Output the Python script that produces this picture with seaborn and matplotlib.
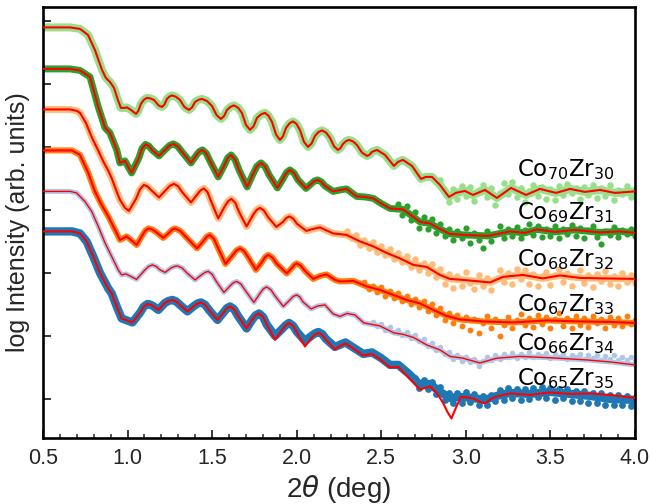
import matplotlib
matplotlib.use("Agg")
import matplotlib.pyplot as plt
import seaborn as sns
from matplotlib.ticker import MultipleLocator

sns.set_theme(style="ticks")
plt.rcParams['font.family'] = ['Liberation Sans', 'DejaVu Sans']
plt.rcParams['mathtext.fontset'] = 'dejavusans'

# ---------------- data (2theta in deg, log intensity in arb. decades) -------------
labels = [r'$\mathrm{Co_{70}Zr_{30}}$', r'$\mathrm{Co_{69}Zr_{31}}$', r'$\mathrm{Co_{68}Zr_{32}}$',
          r'$\mathrm{Co_{67}Zr_{33}}$', r'$\mathrm{Co_{66}Zr_{34}}$', r'$\mathrm{Co_{65}Zr_{35}}$']

x70 = [0.50, 0.66, 0.719, 0.766, 0.807, 0.849, 0.872, 0.896, 0.920, 0.943, 0.961, 0.979, 0.997, 1.020,
       1.050, 1.064, 1.079, 1.097, 1.115, 1.135, 1.156, 1.185, 1.204, 1.218, 1.233, 1.248, 1.263, 1.286, 1.310,
       1.336, 1.363, 1.381, 1.399, 1.420, 1.440, 1.470, 1.499, 1.526, 1.552, 1.570, 1.588, 1.609, 1.629, 1.653,
       1.676, 1.700, 1.724, 1.745, 1.765, 1.789, 1.812, 1.833, 1.854, 1.878, 1.901, 1.919, 1.937, 1.958, 1.978,
       1.999, 2.019, 2.043, 2.067, 2.088, 2.108, 2.129, 2.150, 2.174, 2.197, 2.221, 2.244, 2.259, 2.274, 2.292,
       2.309, 2.333, 2.356, 2.386, 2.416, 2.431, 2.445,
       2.475, 2.522, 2.575, 2.599, 2.628, 2.682, 2.735, 2.764, 2.800, 2.847, 2.900, 2.941, 2.994, 3.042, 3.113,
       3.184, 3.267, 3.356, 3.438, 3.533, 3.616, 3.704, 3.793, 3.882, 4.000]
y70 = [5.897, 5.897, 5.873, 5.778, 5.540, 5.222, 5.095, 5.032, 4.937, 4.746, 4.619, 4.619, 4.627, 4.587,
       4.524, 4.572, 4.683, 4.750, 4.778, 4.770, 4.746, 4.655, 4.635, 4.673, 4.762, 4.800, 4.817, 4.796, 4.746,
       4.635, 4.587, 4.625, 4.714, 4.748, 4.762, 4.729, 4.651, 4.506, 4.444, 4.487, 4.587, 4.637, 4.659, 4.623,
       4.540, 4.351, 4.270, 4.327, 4.460, 4.516, 4.540, 4.497, 4.397, 4.197, 4.111, 4.168, 4.302, 4.374, 4.405,
       4.365, 4.270, 4.081, 4.000, 4.053, 4.175, 4.236, 4.262, 4.226, 4.143, 4.009, 3.952, 3.981, 4.048, 4.092,
       4.111, 4.087, 4.032, 3.910, 3.857, 3.876, 3.921,
       3.952, 3.873, 3.698, 3.762, 3.794, 3.698, 3.492, 3.524, 3.524, 3.397, 3.206, 3.270, 3.302, 3.238, 3.317,
       3.190, 3.349, 3.238, 3.333, 3.270, 3.333, 3.286, 3.317, 3.270, 3.294]

x69 = [0.50, 0.66, 0.719, 0.778, 0.825, 0.867, 0.896, 0.936, 0.955, 0.985,
       1.024, 1.067, 1.086, 1.106, 1.126, 1.145, 1.186, 1.227, 1.249, 1.271, 1.296, 1.322, 1.375, 1.408, 1.425,
       1.443, 1.465, 1.487, 1.536, 1.573, 1.592, 1.612, 1.635, 1.659, 1.707, 1.742, 1.765, 1.789, 1.813, 1.837,
       1.886, 1.922, 1.941, 1.960, 1.984, 2.008, 2.055, 2.085, 2.104, 2.123, 2.145, 2.167,
       2.216, 2.256, 2.295, 2.355, 2.404, 2.453, 2.504, 2.552, 2.628, 2.682, 2.729, 2.788, 2.847, 2.906, 2.994,
       3.131, 3.261, 3.349, 3.420, 3.527, 3.645, 3.793, 3.911, 4.000]
y69 = [5.238, 5.238, 5.214, 5.111, 4.651, 4.302, 4.222, 3.952, 3.746, 3.778,
       3.587, 3.825, 3.976, 4.040, 4.014, 3.952, 3.857, 3.968, 4.024, 4.048, 4.010, 3.921, 3.746, 3.873, 3.928,
       3.952, 3.900, 3.778, 3.524, 3.714, 3.825, 3.873, 3.802, 3.635, 3.365, 3.571, 3.694, 3.746, 3.689, 3.556,
       3.349, 3.508, 3.597, 3.635, 3.587, 3.476, 3.341, 3.413, 3.457, 3.476, 3.448, 3.381,
       3.294, 3.317, 3.333, 3.214, 3.206, 3.183, 3.095, 3.024, 3.008, 2.905, 2.810, 2.786, 2.698, 2.619, 2.603,
       2.587, 2.659, 2.635, 2.690, 2.651, 2.683, 2.643, 2.659, 2.635]

x68 = [0.50, 0.66, 0.701, 0.719, 0.754, 0.790, 0.825, 0.861, 0.884, 0.908, 0.932, 0.955, 0.985, 1.008,
       1.050, 1.074, 1.097, 1.118, 1.139, 1.186, 1.227, 1.251, 1.275, 1.299, 1.322, 1.375, 1.410, 1.431, 1.452,
       1.473, 1.493, 1.536, 1.573, 1.594, 1.614, 1.637, 1.659, 1.704, 1.742, 1.763, 1.783, 1.807, 1.830, 1.880,
       1.919, 1.938, 1.957, 1.980, 2.002,
       2.058, 2.096, 2.138, 2.215, 2.295, 2.374, 2.453, 2.532, 2.611, 2.690, 2.769, 2.847, 2.906, 2.984, 3.143,
       3.220, 3.338, 3.456, 3.557, 3.675, 3.811, 4.000]
y68 = [4.595, 4.595, 4.571, 4.540, 4.381, 4.143, 3.952, 3.746, 3.635, 3.492, 3.317, 3.159, 3.032, 2.984,
       3.175, 3.330, 3.397, 3.373, 3.317, 3.198, 3.317, 3.384, 3.413, 3.375, 3.286, 3.119, 3.238, 3.310, 3.341,
       3.282, 3.143, 2.865, 3.048, 3.137, 3.175, 3.113, 2.968, 2.738, 2.921, 2.999, 3.032, 2.989, 2.889, 2.730,
       2.810, 2.871, 2.897, 2.861, 2.778,
       2.667, 2.698, 2.722, 2.627, 2.603, 2.500, 2.421, 2.317, 2.230, 2.127, 2.095, 1.968, 1.905, 1.889, 1.849,
       1.937, 1.968, 1.913, 1.960, 1.921, 1.913, 1.905]

x67 = [0.50, 0.672, 0.719, 0.768, 0.807, 0.847, 0.886, 0.926, 0.955, 0.995, 1.020, 1.054, 1.085,
       1.105, 1.124, 1.146, 1.168, 1.211, 1.245, 1.263, 1.280, 1.312, 1.345, 1.411, 1.449, 1.468, 1.487, 1.511,
       1.535, 1.579, 1.623, 1.644, 1.665, 1.688, 1.712, 1.759, 1.795, 1.814, 1.832, 1.857, 1.883, 1.941, 1.972,
       1.986, 2.000, 2.024, 2.049,
       2.098, 2.138, 2.177, 2.226, 2.256, 2.335, 2.414, 2.492, 2.571, 2.650, 2.729, 2.808, 2.887, 2.965, 3.101,
       3.279, 3.480, 3.675, 3.852, 4.000]
y67 = [3.944, 3.944, 3.873, 3.587, 3.294, 3.079, 2.897, 2.683, 2.524, 2.579, 2.524, 2.444, 2.587,
       2.670, 2.706, 2.690, 2.651, 2.556, 2.635, 2.685, 2.706, 2.666, 2.571, 2.389, 2.508, 2.575, 2.603, 2.541,
       2.397, 2.143, 2.286, 2.358, 2.389, 2.349, 2.254, 2.048, 2.175, 2.253, 2.286, 2.243, 2.143, 1.992, 2.079,
       2.129, 2.151, 2.115, 2.032,
       1.905, 1.952, 1.976, 1.889, 1.865, 1.873, 1.786, 1.730, 1.651, 1.571, 1.516, 1.413, 1.317, 1.262, 1.230,
       1.214, 1.246, 1.230, 1.222, 1.206]

x66 = [0.50, 0.66, 0.699, 0.748, 0.788, 0.827, 0.867, 0.906, 0.945, 0.965, 0.990, 1.014, 1.053, 1.103,
       1.125, 1.147, 1.170, 1.192, 1.222, 1.257, 1.276, 1.295, 1.323, 1.351, 1.399, 1.437, 1.457, 1.477, 1.500,
       1.523, 1.570, 1.606, 1.626, 1.645, 1.670, 1.694, 1.747, 1.783, 1.803, 1.822, 1.847, 1.872, 1.921, 1.960,
       1.980, 2.000, 2.019, 2.037,
       2.085, 2.126, 2.167, 2.216, 2.256, 2.298, 2.344, 2.397, 2.492, 2.575, 2.630, 2.690, 2.769, 2.847, 2.906,
       2.984, 3.083, 3.182, 3.320, 3.515, 3.714, 3.852, 4.000]
y66 = [3.294, 3.294, 3.270, 3.135, 2.976, 2.738, 2.476, 2.262, 2.048, 1.968, 1.984, 1.952, 1.897, 2.048,
       2.103, 2.127, 2.103, 2.048, 2.008, 2.079, 2.101, 2.111, 2.078, 2.000, 1.889, 1.968, 2.007, 2.024, 1.979,
       1.873, 1.690, 1.794, 1.844, 1.865, 1.825, 1.730, 1.532, 1.675, 1.747, 1.778, 1.735, 1.635, 1.468, 1.571,
       1.627, 1.651, 1.618, 1.540,
       1.429, 1.476, 1.492, 1.349, 1.310, 1.357, 1.333, 1.206, 1.159, 1.048, 1.024, 0.976, 0.857, 0.778, 0.675,
       0.646, 0.571, 0.646, 0.675, 0.651, 0.619, 0.587, 0.540]

x65 = [0.50, 0.672, 0.719, 0.758, 0.797, 0.837, 0.886, 0.906, 0.936, 0.965, 0.997, 1.029, 1.073,
       1.096, 1.118, 1.134, 1.150, 1.182, 1.221, 1.244, 1.266, 1.288, 1.310, 1.354, 1.393, 1.414, 1.434, 1.458,
       1.481, 1.532, 1.570, 1.588, 1.606, 1.630, 1.653, 1.704, 1.736, 1.757, 1.777, 1.801, 1.824, 1.872, 1.914,
       1.935, 1.955, 1.979, 2.002, 2.049, 2.087, 2.108, 2.128, 2.151, 2.173,
       2.226, 2.256, 2.288, 2.338, 2.394, 2.445, 2.498, 2.552, 2.601, 2.664, 2.729, 2.788, 2.829, 2.867, 2.891,
       2.915, 2.941, 2.971, 3.006, 3.042, 3.078, 3.113, 3.149, 3.184, 3.261, 3.379, 3.498, 3.616, 3.734, 3.852,
       4.000]
y65 = [2.659, 2.659, 2.627, 2.500, 2.262, 2.000, 1.754, 1.675, 1.468, 1.278, 1.246, 1.214, 1.365,
       1.465, 1.508, 1.498, 1.476, 1.413, 1.524, 1.557, 1.571, 1.547, 1.492, 1.389, 1.476, 1.515, 1.532, 1.496,
       1.413, 1.254, 1.381, 1.442, 1.468, 1.423, 1.317, 1.119, 1.254, 1.326, 1.357, 1.302, 1.175, 0.937, 1.095,
       1.173, 1.206, 1.159, 1.048, 0.833, 0.968, 1.024, 1.048, 1.015, 0.937,
       0.786, 0.841, 0.881, 0.794, 0.690, 0.714, 0.619, 0.500, 0.508, 0.333, 0.151, 0.198, 0.095, -0.071, -0.206,
       -0.310, -0.143, 0.032, 0.024, 0.008, -0.040, -0.071, 0.000, 0.040, 0.087, 0.063, 0.103, 0.079, 0.087, 0.063,
       0.016]

# measured Co65Zr35 beyond 1.85 deg (shallower minima, no dip at 2.92 deg)
x65_meas_hi = [1.872, 1.914, 1.935, 1.955, 1.979, 2.002, 2.049, 2.087, 2.108, 2.128, 2.151, 2.173, 2.226, 2.288,
               2.338, 2.394, 2.445, 2.498, 2.552, 2.601, 2.664, 2.729, 2.788, 2.847, 2.906, 2.965, 3.036, 3.113,
               3.184, 3.261, 3.379, 3.498, 3.616, 3.734, 3.852, 4.000]
y65_meas_hi = [1.000, 1.111, 1.170, 1.206, 1.160, 1.063, 0.921, 1.000, 1.040, 1.063, 1.030, 0.952, 0.825, 0.897,
               0.810, 0.714, 0.738, 0.651, 0.540, 0.540, 0.397, 0.222, 0.238, 0.111, 0.016, 0.032, 0.016, -0.016,
               0.048, 0.095, 0.079, 0.111, 0.079, 0.048, 0.000, -0.016]

# noisy measured points at high angle: (2theta, log I)
n70 = [(2.850, 3.48), (2.875, 3.30), (2.900, 3.12), (2.925, 3.33), (2.950, 3.18), (2.975, 3.38), (3.000, 3.22),
       (3.025, 3.36), (3.050, 3.14), (3.075, 3.31), (3.100, 3.40), (3.125, 3.21), (3.150, 3.35), (3.175, 3.08),
       (3.200, 3.27), (3.225, 3.42), (3.250, 3.26), (3.275, 3.45), (3.300, 3.20), (3.325, 3.34), (3.350, 3.13),
       (3.375, 3.30), (3.400, 3.40), (3.425, 3.22), (3.450, 3.37), (3.475, 3.18), (3.500, 3.33), (3.525, 3.16),
       (3.550, 3.38), (3.575, 3.23), (3.600, 3.41), (3.625, 3.27), (3.650, 3.35), (3.675, 3.17), (3.700, 3.36),
       (3.725, 3.24), (3.750, 3.40), (3.775, 3.19), (3.800, 3.34), (3.825, 3.22), (3.850, 3.39), (3.875, 3.16),
       (3.900, 3.32), (3.925, 3.25), (3.950, 3.38), (3.975, 3.20), (4.000, 3.31)]
n69 = [(2.600, 3.10), (2.625, 2.92), (2.650, 3.06), (2.675, 2.84), (2.700, 2.97), (2.725, 2.72), (2.750, 2.88),
       (2.775, 2.70), (2.800, 2.86), (2.825, 2.63), (2.850, 2.78), (2.875, 2.58), (2.900, 2.70), (2.925, 2.52),
       (2.950, 2.66), (2.975, 2.55), (3.000, 2.71), (3.025, 2.48), (3.050, 2.63), (3.075, 2.53), (3.100, 2.40),
       (3.125, 2.67), (3.150, 2.51), (3.175, 2.62), (3.200, 2.74), (3.225, 2.56), (3.250, 2.70), (3.275, 2.58),
       (3.300, 2.73), (3.325, 2.55), (3.350, 2.68), (3.375, 2.78), (3.400, 2.60), (3.425, 2.74), (3.450, 2.57),
       (3.475, 2.70), (3.500, 2.59), (3.525, 2.75), (3.550, 2.56), (3.575, 2.69), (3.600, 2.61), (3.625, 2.76),
       (3.650, 2.58), (3.675, 2.71), (3.700, 2.55), (3.725, 2.68), (3.750, 2.74), (3.775, 2.57), (3.800, 2.46),
       (3.825, 2.67), (3.850, 2.60), (3.875, 2.73), (3.900, 2.57), (3.925, 2.68), (3.950, 2.62), (3.975, 2.70),
       (4.000, 2.58)]
n68 = [(2.300, 2.66), (2.325, 2.55), (2.350, 2.60), (2.375, 2.45), (2.400, 2.52), (2.425, 2.40), (2.450, 2.49),
       (2.475, 2.33), (2.500, 2.42), (2.525, 2.28), (2.550, 2.38), (2.575, 2.22), (2.600, 2.31), (2.625, 2.18),
       (2.650, 2.27), (2.675, 2.10), (2.700, 2.22), (2.725, 2.05), (2.750, 2.16), (2.775, 2.00), (2.800, 2.14),
       (2.825, 1.93), (2.850, 2.06), (2.875, 1.82), (2.900, 1.98), (2.925, 1.76), (2.950, 1.95), (2.975, 1.80),
       (3.000, 2.01), (3.025, 1.84), (3.050, 1.74), (3.075, 1.96), (3.100, 1.79), (3.125, 1.92), (3.150, 1.73),
       (3.175, 1.88), (3.200, 2.04), (3.225, 1.86), (3.250, 2.00), (3.275, 1.82), (3.300, 2.07), (3.325, 1.90),
       (3.350, 2.05), (3.375, 1.83), (3.400, 1.98), (3.425, 1.79), (3.450, 1.95), (3.475, 2.02), (3.500, 1.81),
       (3.525, 1.97), (3.550, 2.06), (3.575, 1.85), (3.600, 2.00), (3.625, 1.80), (3.650, 1.94), (3.675, 2.05),
       (3.700, 1.84), (3.725, 1.96), (3.750, 1.78), (3.775, 1.99), (3.800, 1.87), (3.825, 2.03), (3.850, 1.82),
       (3.875, 1.95), (3.900, 1.79), (3.925, 2.00), (3.950, 1.86), (3.975, 1.97), (4.000, 1.84)]
n67 = [(2.400, 1.85), (2.425, 1.74), (2.450, 1.80), (2.475, 1.69), (2.500, 1.77), (2.525, 1.64), (2.550, 1.72),
       (2.575, 1.60), (2.600, 1.68), (2.625, 1.55), (2.650, 1.63), (2.675, 1.50), (2.700, 1.59), (2.725, 1.46),
       (2.750, 1.56), (2.775, 1.40), (2.800, 1.50), (2.825, 1.33), (2.850, 1.44), (2.875, 1.25), (2.900, 1.37),
       (2.925, 1.20), (2.950, 1.33), (2.975, 1.15), (3.000, 1.30), (3.025, 1.10), (3.050, 1.27), (3.075, 1.05),
       (3.100, 1.20), (3.125, 1.31), (3.150, 1.12), (3.175, 1.27), (3.200, 1.00), (3.225, 1.18), (3.250, 1.30),
       (3.275, 1.13), (3.300, 1.26), (3.325, 1.35), (3.350, 1.17), (3.375, 1.29), (3.400, 1.14), (3.425, 1.33),
       (3.450, 1.19), (3.475, 1.30), (3.500, 1.12), (3.525, 1.27), (3.550, 1.36), (3.575, 1.16), (3.600, 1.28),
       (3.625, 1.13), (3.650, 1.32), (3.675, 1.18), (3.700, 1.29), (3.725, 1.14), (3.750, 1.31), (3.775, 1.20),
       (3.800, 1.27), (3.825, 1.12), (3.850, 1.30), (3.875, 1.17), (3.900, 1.28), (3.925, 1.15), (3.950, 1.32),
       (3.975, 1.19), (4.000, 1.25)]
n66 = [(2.450, 1.22), (2.475, 1.15), (2.500, 1.19), (2.525, 1.10), (2.550, 1.14), (2.575, 1.06), (2.600, 1.09),
       (2.625, 1.01), (2.650, 1.06), (2.675, 0.97), (2.700, 1.02), (2.725, 0.92), (2.750, 0.95), (2.775, 0.84),
       (2.800, 0.88), (2.825, 0.78), (2.850, 0.82), (2.875, 0.71), (2.900, 0.74), (2.925, 0.64), (2.950, 0.70),
       (2.975, 0.60), (3.000, 0.66), (3.025, 0.58), (3.050, 0.63), (3.075, 0.53), (3.100, 0.60), (3.125, 0.66),
       (3.150, 0.61), (3.175, 0.70), (3.200, 0.64), (3.225, 0.72), (3.250, 0.66), (3.275, 0.73), (3.300, 0.65),
       (3.325, 0.71), (3.350, 0.67), (3.375, 0.74), (3.400, 0.66), (3.425, 0.72), (3.450, 0.68), (3.475, 0.73),
       (3.500, 0.65), (3.525, 0.71), (3.550, 0.67), (3.575, 0.72), (3.600, 0.64), (3.625, 0.70), (3.650, 0.66),
       (3.675, 0.71), (3.700, 0.63), (3.725, 0.69), (3.750, 0.65), (3.775, 0.70), (3.800, 0.62), (3.825, 0.68),
       (3.850, 0.64), (3.875, 0.69), (3.900, 0.61), (3.925, 0.66), (3.950, 0.62), (3.975, 0.67), (4.000, 0.60)]
n65 = [(2.700, 0.33), (2.725, 0.18), (2.750, 0.30), (2.775, 0.15), (2.800, 0.27), (2.825, 0.08), (2.850, 0.19),
       (2.875, -0.02), (2.900, 0.10), (2.925, -0.06), (2.950, 0.09), (2.975, -0.07), (3.000, 0.11), (3.025, -0.05),
       (3.050, 0.08), (3.075, -0.10), (3.100, 0.05), (3.125, -0.09), (3.150, 0.07), (3.175, -0.04), (3.200, 0.14),
       (3.225, -0.01), (3.250, 0.18), (3.275, 0.02), (3.300, 0.16), (3.325, -0.02), (3.350, 0.15), (3.375, 0.00),
       (3.400, 0.17), (3.425, 0.03), (3.450, 0.19), (3.475, 0.01), (3.500, 0.18), (3.525, -0.01), (3.550, 0.16),
       (3.575, 0.02), (3.600, 0.15), (3.625, -0.03), (3.650, 0.13), (3.675, -0.04), (3.700, 0.12), (3.725, -0.06),
       (3.750, 0.10), (3.775, -0.07), (3.800, 0.09), (3.825, -0.09), (3.850, 0.07), (3.875, -0.10), (3.900, 0.06),
       (3.925, -0.09), (3.950, 0.05), (3.975, -0.11), (4.000, 0.02)]

# ---------------- assemble -----------------------------------------------------------
low65 = [(a, b) for a, b in zip(x65, y65) if a < 1.85]
x65_meas = [p[0] for p in low65] + x65_meas_hi
y65_meas = [p[1] for p in low65] + y65_meas_hi

fits = [(x70, y70), (x69, y69), (x68, y68), (x67, y67), (x66, y66), (x65, y65)]
meas = [(x70, y70), (x69, y69), (x68, y68), (x67, y67), (x66, y66), (x65_meas, y65_meas)]
noise = [n70, n69, n68, n67, n66, n65]

colors = ['#98df8a', '#2ca02c', '#ffbb78', '#ff7f0e', '#aec7e8', '#1f77b4']
band_lw = [5.8, 5.0, 5.0, 4.4, 3.6, 6.0]
dot_s = [22, 20, 22, 18, 16, 24]
fit_lw = [1.5, 1.5, 1.5, 1.5, 1.0, 1.5]
label_y = [3.53, 2.85, 2.11, 1.40, 0.77, 0.22]

fig = plt.figure(figsize=(6.53, 5.04), dpi=100)
ax = fig.add_axes([0.0658, 0.131, 0.9066, 0.855])

for i in range(6):
    mx, my = meas[i]
    sns.lineplot(x=mx, y=my, ax=ax, color=colors[i], linewidth=band_lw[i], sort=False,
                 estimator=None, solid_capstyle='round', solid_joinstyle='round', zorder=2)
    nx = [p[0] for p in noise[i]]
    ny = [p[1] for p in noise[i]]
    sns.scatterplot(x=nx, y=ny, ax=ax, color=colors[i], s=dot_s[i], linewidth=0, zorder=2)

for i in range(6):
    fx, fy = fits[i]
    sns.lineplot(x=fx, y=fy, ax=ax, color='#ff0000', linewidth=fit_lw[i], sort=False,
                 estimator=None, solid_joinstyle='round', zorder=3)
    ax.text(3.30, label_y[i], labels[i], fontsize=16.5, family='DejaVu Sans',
            ha='left', va='baseline', color='black', zorder=4)

ax.set_xlim(0.5, 4.0)
ax.set_ylim(-0.62, 6.22)
ax.xaxis.set_major_locator(MultipleLocator(0.5))
ax.xaxis.set_minor_locator(MultipleLocator(0.1))
ax.set_yticks(range(7))
ax.set_yticklabels([])
ax.tick_params(axis='both', which='major', direction='in', length=5.5, width=1.3,
               labelsize=15.5, pad=7, top=False, right=False)
ax.tick_params(axis='x', which='minor', direction='in', length=3.2, width=1.1, top=False)
for sp in ax.spines.values():
    sp.set_linewidth(1.9)
    sp.set_color('black')

ax.set_xlabel(r'2$\theta$ (deg)', fontsize=20, labelpad=3)
ax.set_ylabel('log Intensity (arb. units)', fontsize=18, labelpad=2)

fig.savefig('out.png', dpi=100)
